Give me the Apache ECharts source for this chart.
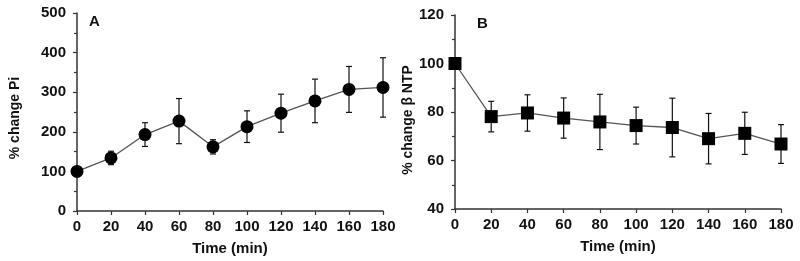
<!DOCTYPE html>
<html>
<head>
<meta charset="utf-8">
<script src="https://cdn.jsdelivr.net/npm/echarts@6/dist/echarts.min.js"></script>
<style>
  html, body { margin: 0; padding: 0; background: #fff; }
  #chart { width: 800px; height: 261px; }
</style>
</head>
<body>
<div id="chart"></div>
<script>
// time points (min)
const times = [0, 20, 40, 60, 80, 100, 120, 140, 160, 180];
// panel A: % change Pi, mean and error
const piMean = [100, 134, 193, 227, 162, 213, 247, 278, 307, 312];
const piErr = [0, 17, 30, 57, 18, 40, 48, 55, 58, 75];
// panel B: % change beta NTP, mean and error
const ntpMean = [100, 78.1, 79.6, 77.5, 75.9, 74.4, 73.6, 69.0, 71.2, 66.8];
const ntpErr = [0, 6.3, 7.5, 8.3, 11.4, 7.6, 12.1, 10.4, 8.7, 8.0];

const font = 'Liberation Sans, Arial, sans-serif';
const axisColor = '#333';

const pairs = (ys) => times.map((t, i) => [t, ys[i]]);
const errData = (ys, es) => times.map((t, i) => [t, ys[i] - es[i], ys[i] + es[i]]);

const errRender = (params, api) => {
  const lo = api.coord([api.value(0), api.value(1)]);
  const hi = api.coord([api.value(0), api.value(2)]);
  const w = 3;
  const st = { stroke: '#111', lineWidth: 1.2 };
  return {
    type: 'group',
    children: [
      { type: 'line', shape: { x1: lo[0], y1: lo[1], x2: hi[0], y2: hi[1] }, style: st },
      { type: 'line', shape: { x1: lo[0] - w, y1: lo[1], x2: lo[0] + w, y2: lo[1] }, style: st },
      { type: 'line', shape: { x1: hi[0] - w, y1: hi[1], x2: hi[0] + w, y2: hi[1] }, style: st }
    ]
  };
};

const xAxisBase = (gi) => ({
  type: 'value',
  gridIndex: gi,
  min: 0,
  max: 180,
  interval: 20,
  name: 'Time (min)',
  nameLocation: 'middle',
  nameGap: 30,
  nameTextStyle: { fontFamily: font, fontWeight: 'bold', fontSize: 15, color: '#111' },
  splitLine: { show: false },
  axisLine: { lineStyle: { color: axisColor, width: 1.5 } },
  axisTick: { length: 4, lineStyle: { color: axisColor, width: 1.2 } },
  axisLabel: { margin: 8, fontFamily: font, fontWeight: 'bold', fontSize: 15, color: '#111' }
});

const yAxisBase = (gi, min, max, interval, name, gap, pad) => ({
  type: 'value',
  gridIndex: gi,
  min: min,
  max: max,
  interval: interval,
  name: name,
  nameLocation: 'middle',
  nameGap: gap,
  nameTextStyle: { fontFamily: font, fontWeight: 'bold', fontSize: 14, color: '#111', padding: pad },
  splitLine: { show: false },
  axisLine: { show: true, lineStyle: { color: axisColor, width: 1.5 } },
  axisTick: { show: true, length: 4, lineStyle: { color: axisColor, width: 1.2 } },
  minorTick: { show: true, splitNumber: 2, length: 3, lineStyle: { color: axisColor, width: 1.2 } },
  axisLabel: { margin: 11, fontFamily: font, fontWeight: 'bold', fontSize: 15, color: '#111' }
});

const chart = echarts.init(document.getElementById('chart'), null, { renderer: 'canvas' });

const option = {
  animation: false,
  backgroundColor: '#fff',
  grid: [
    { left: 77, top: 13, width: 306, height: 198 },
    { left: 455, top: 15, width: 326, height: 194 }
  ],
  xAxis: [xAxisBase(0), xAxisBase(1)],
  yAxis: [
    yAxisBase(0, 0, 500, 100, '% change Pi', 55, [0, 12, 0, 0]),
    yAxisBase(1, 40, 120, 20, '% change β NTP', 37, [0, 16, 0, 0])
  ],
  graphic: [
    { type: 'text', left: 89, top: 14, style: { text: 'A', font: 'bold 15px ' + font, fill: '#111' } },
    { type: 'text', left: 477, top: 16, style: { text: 'B', font: 'bold 15px ' + font, fill: '#111' } }
  ],
  series: [
    {
      type: 'custom',
      xAxisIndex: 0,
      yAxisIndex: 0,
      renderItem: errRender,
      data: errData(piMean, piErr),
      z: 1
    },
    {
      type: 'line',
      xAxisIndex: 0,
      yAxisIndex: 0,
      data: pairs(piMean),
      symbol: 'circle',
      symbolSize: 13,
      itemStyle: { color: '#000' },
      lineStyle: { color: '#555', width: 1.3 },
      z: 3
    },
    {
      type: 'custom',
      xAxisIndex: 1,
      yAxisIndex: 1,
      renderItem: errRender,
      data: errData(ntpMean, ntpErr),
      z: 1
    },
    {
      type: 'line',
      xAxisIndex: 1,
      yAxisIndex: 1,
      data: pairs(ntpMean),
      symbol: 'rect',
      symbolSize: 13,
      itemStyle: { color: '#000' },
      lineStyle: { color: '#555', width: 1.3 },
      z: 3
    }
  ]
};

chart.setOption(option);
</script>
</body>
</html>
